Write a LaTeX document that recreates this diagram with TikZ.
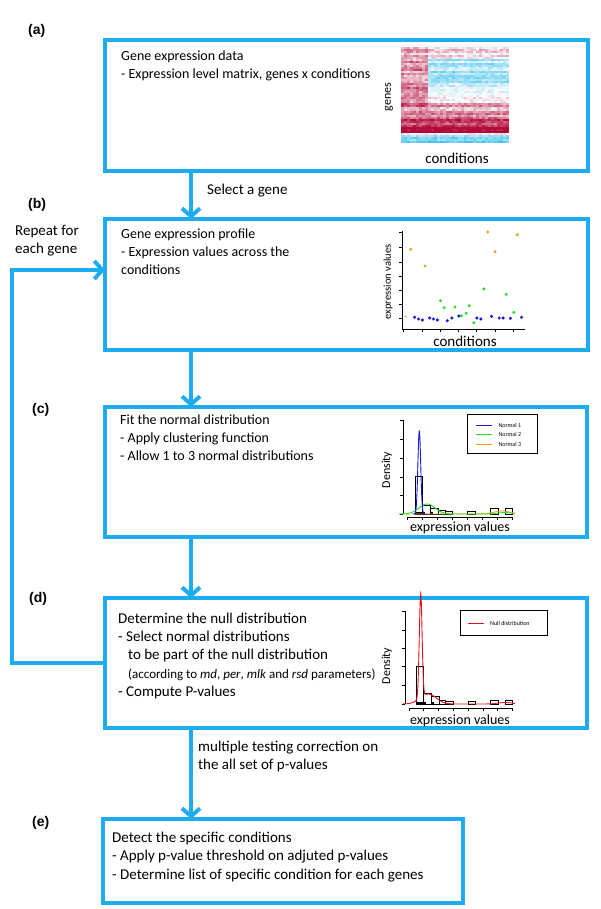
\documentclass[tikz,border=0pt]{standalone}
\usepackage{fontspec}
\setmainfont{Carlito}
\newfontfamily\labelfont{Liberation Sans}
\usetikzlibrary{arrows.meta}
\definecolor{flowblue}{RGB}{30,172,240}
\definecolor{hmred}{RGB}{178,10,58}
\definecolor{hmblue}{RGB}{45,185,235}
\definecolor{dotorange}{RGB}{240,160,40}
\definecolor{dotgreen}{RGB}{40,225,40}
\definecolor{dotblue}{RGB}{25,25,215}
\definecolor{nullred}{RGB}{220,20,30}

\begin{document}
\begin{tikzpicture}[x=1pt,y=-1pt,>={Straight Barb[length=8pt,width=18pt]},line join=miter]
	\tikzstyle{panel}=[draw=flowblue,line width=4pt,anchor=north west,inner sep=0pt,outer sep=0pt]
	\tikzstyle{flow}=[->,draw=flowblue,line width=4pt]
	\tikzstyle{boxtext}=[anchor=north west,align=left,inner sep=0pt,font=\fontsize{14}{18}\selectfont]
	\tikzstyle{bigtext}=[boxtext,font=\fontsize{15}{18.3}\selectfont]
	\tikzstyle{letter}=[anchor=base west,inner sep=0pt,font=\labelfont\bfseries\fontsize{14}{16}\selectfont]
	\tikzstyle{axis}=[line width=0.7pt]
	\tikzstyle{bar}=[draw,line width=0.9pt]
	\tikzstyle{axlabel}=[inner sep=0pt,font=\fontsize{13}{15}\selectfont]
	\tikzstyle{legtext}=[anchor=west,inner sep=0pt,font=\fontsize{6}{7}\selectfont]

	\useasboundingbox (0,0) rectangle (600,909);

	\node[panel,minimum width=483pt,minimum height=131pt] (data) at (105,40) {};
	\node[panel,minimum width=483pt,minimum height=131pt] (profile) at (105,219) {};
	\node[panel,minimum width=482pt,minimum height=130pt] (fit) at (105,407) {};
	\node[panel,minimum width=482pt,minimum height=130pt] (nulldist) at (105,598) {};
	\node[panel,minimum width=360pt,minimum height=84pt] (detect) at (103,819) {};

	\node[letter] (la) at (28,35) {(a)};
	\node[letter] (lb) at (28,209) {(b)};
	\node[letter] (lc) at (32,413) {(c)};
	\node[letter] (ld) at (29,602) {(d)};
	\node[letter] (le) at (32,826) {(e)};

	\node[boxtext] (datatxt) at (121,51) {Gene expression data\\- Expression level matrix, genes x conditions};
	\node[boxtext] (profiletxt) at (121,229) {Gene expression profile\\- Expression values across the\\conditions};
	\node[boxtext] (fittxt) at (120,415) {Fit the normal distribution\\- Apply clustering function\\- Allow 1 to 3 normal distributions};
	\node[bigtext] (nulltxt) at (118,612.5) {Determine the null distribution\\- Select normal distributions\\\hspace*{10pt}to be part of the null distribution\\{\fontsize{13}{18.3}\selectfont\hspace*{10pt}(according to \textit{md}, \textit{per}, \textit{mlk} and \textit{rsd} parameters)}\\- Compute P-values};
	\node[bigtext] (detecttxt) at (112,832) {Detect the specific conditions\\- Apply p-value threshold on adjuted p-values\\- Determine list of specific condition for each genes};

	\coordinate (spine) at (191,0);
	\coordinate (loopx) at (12,0);
	\coordinate (loopin) at (105,270);
	\draw[flow] (data.south -| spine) -- (profile.north -| spine);
	\draw[flow] (profile.south -| spine) -- (fit.north -| spine);
	\draw[flow] (fit.south -| spine) -- (nulldist.north -| spine);
	\draw[flow] (nulldist.south -| spine) -- (detect.north -| spine);
	\draw[flow] (nulldist.west) -- (nulldist.west -| loopx) |- (loopin);

	\node[bigtext] (select) at (207,184) {Select a gene};
	\node[bigtext] (repeat) at (15,225) {Repeat for\\each gene};
	\node[bigtext] (correct) at (198,741) {multiple testing correction on\\the all set of p-values};

	\pgfmathsetseed{12}
	\foreach \r in {0,...,47}{
		\pgfmathsetmacro\t{\r/47}
		\pgfmathsetmacro\rn{0.45*(rnd-0.5)}
		\pgfmathsetmacro\base{(\t<0.12)*0.15+(\t>=0.12)*(-0.4+1.4*max(0,\t-0.36)/0.5)}
		\foreach \c in {0,...,35}{
			\pgfmathsetmacro\v{(\r<43)*((\c<9)*max(0.35+0.3*\t,\base)+(\c>=9)*\base)+(\r>=43)*(-0.6+0.45*(\r==43))+\rn+0.35*(rnd-0.5)}
			\pgfmathtruncatemacro\pc{max(0,min(100,100*\v))}
			\pgfmathtruncatemacro\nc{max(0,min(100,-100*\v))}
			\ifnum\pc>0 \def\hmc{hmred!\pc!white}\else\def\hmc{hmblue!\nc!white}\fi
			\fill[fill=\hmc] (401+3*\c,47+2*\r) rectangle +(3.1,2.1);
		}
	}
	\node[axlabel,rotate=90,font=\fontsize{12}{14}\selectfont] (genes) at (389,97) {genes};
	\node[axlabel,font=\fontsize{15}{17}\selectfont] (hmcond) at (457,158) {conditions};

	\draw[axis] (402,231) -- (402,329) -- (525,329);
	\foreach \y in {232,247,262,276,290,304,318} \draw[axis] (399,\y) -- (402,\y);
	\foreach \x in {403,422,440,458,476,495,513} \draw[axis] (\x,329) -- (\x,332);
	\foreach \p in {(410.8,249.3),(425,266),(487.7,232),(495,251.7),(517.3,234.7)} \fill[dotorange] \p circle (1.7);
	\foreach \p in {(440.4,300.7),(444.2,307.7),(455,307),(461.5,315.7),(466.2,313.3),(469.2,305.7),(473.8,322.7),(483.8,289),(506.2,294.3),(513.8,312.3)} \fill[dotgreen] \p circle (1.7);
	\fill[dotgreen] (405.8,316.7) circle (0.8);
	\foreach \p in {(414.6,317.3),(418.5,319),(422.3,320),(429.6,318),(433.5,319),(437.3,320),(447.3,320.7),(451.9,318),(458.8,316),(476.9,318),(480.8,319),(491.5,316.3),(499.2,318),(503.1,318),(510.4,318.3),(521.5,317.3)} \fill[dotblue] \p circle (1.7);
	\node[axlabel,rotate=90,font=\fontsize{10.5}{12}\selectfont] (scy) at (388,282) {expression values};
	\node[axlabel,font=\fontsize{15}{17}\selectfont] (scx) at (465,341) {conditions};

	\draw[axis] (403,420) -- (403,514);
	\foreach \y in {420,439,458,477,495.5,514} \draw[axis] (400,\y) -- (403,\y);
	\draw[axis] (407,517) -- (513,517);
	\foreach \k in {0,...,7} \draw[axis] (407+15.1*\k,517) -- (407+15.1*\k,520);
	\draw[bar] (415,514) rectangle (422.7,476.7);
	\draw[bar] (422.7,514) rectangle (430.7,505);
	\draw[bar] (430.7,514) rectangle (438.3,508.3);
	\draw[bar] (438.3,514) rectangle (445.3,510);
	\draw[bar] (445.3,514) rectangle (452.7,511.7);
	\draw[bar] (467.3,514) rectangle (475,511);
	\draw[bar] (490,514) rectangle (498.3,508.3);
	\draw[bar] (505,514) rectangle (512.7,508.3);
	\fill (416,511.5) rectangle (425,514);
	\fill (431,511.5) rectangle (433,514);
	\draw[dotorange,line width=0.9pt] plot[domain=403:515,samples=120] (\x,{514-3*exp(-min(30,(\x-502)*(\x-502)/128))});
	\draw[dotgreen,line width=0.9pt] plot[domain=398:515,samples=160] (\x,{514-10*exp(-min(30,(\x-427)*(\x-427)/128))-1.5*exp(-min(30,(\x-505)*(\x-505)/100))});
	\draw[dotblue,line width=0.9pt] plot[domain=413:426,samples=80] (\x,{514-83*exp(-min(30,(\x-419.3)*(\x-419.3)/3.9))});
	\node[axlabel,rotate=90,font=\fontsize{12}{14}\selectfont] (fity) at (387,470) {Density};
	\node[axlabel,font=\fontsize{14}{16}\selectfont] (fitx) at (460,528) {expression values};
	\draw[line width=0.8pt] (467,414) rectangle (537,453);
	\draw[dotblue,line width=0.8pt] (475.7,425) -- (491.7,425);
	\draw[dotgreen,line width=0.8pt] (475.7,434.3) -- (491.7,434.3);
	\draw[dotorange,line width=0.8pt] (475.7,444) -- (491.7,444);
	\node[legtext] (n1) at (498.3,425) {Normal 1};
	\node[legtext] (n2) at (498.3,434.3) {Normal 2};
	\node[legtext] (n3) at (498.3,444) {Normal 3};

	\draw[axis] (405,611) -- (405,704);
	\foreach \y in {611,630,648.3,666.7,685,704} \draw[axis] (402,\y) -- (405,\y);
	\draw[axis] (409,708) -- (513,708);
	\foreach \k in {0,...,7} \draw[axis] (409+14.8*\k,708) -- (409+14.8*\k,711);
	\draw[bar] (416,704) rectangle (423.3,666.7);
	\draw[bar] (423.3,704) rectangle (431.7,693.3);
	\draw[bar] (431.7,704) rectangle (439,696.7);
	\draw[bar] (439,704) rectangle (445.7,700);
	\draw[bar] (445.7,704) rectangle (453.3,701.7);
	\draw[bar] (468.3,704) rectangle (475.7,701.7);
	\draw[bar] (490,704) rectangle (498.3,700);
	\draw[bar] (505,704) rectangle (512.7,700);
	\fill (417,701.5) rectangle (426,704);
	\fill (432,701.5) rectangle (434,704);
	\draw[nullred,line width=0.9pt] plot[domain=403:515,samples=400] (\x,{704-104*exp(-min(30,(\x-420.7)*(\x-420.7)/3.9))-10*exp(-min(30,(\x-428.3)*(\x-428.3)/128))-1.5*exp(-min(30,(\x-505)*(\x-505)/100))});
	\node[axlabel,rotate=90,font=\fontsize{12}{14}\selectfont] (nully) at (387,666) {Density};
	\node[axlabel,font=\fontsize{14}{16}\selectfont] (nullx) at (460,721) {expression values};
	\draw[line width=0.8pt] (460.7,610) rectangle (547.7,635.7);
	\draw[nullred,line width=0.8pt] (468.3,623.3) -- (484,623.3);
	\node[legtext] (nl) at (490,623.3) {Null distribution};
\end{tikzpicture}
\end{document}
